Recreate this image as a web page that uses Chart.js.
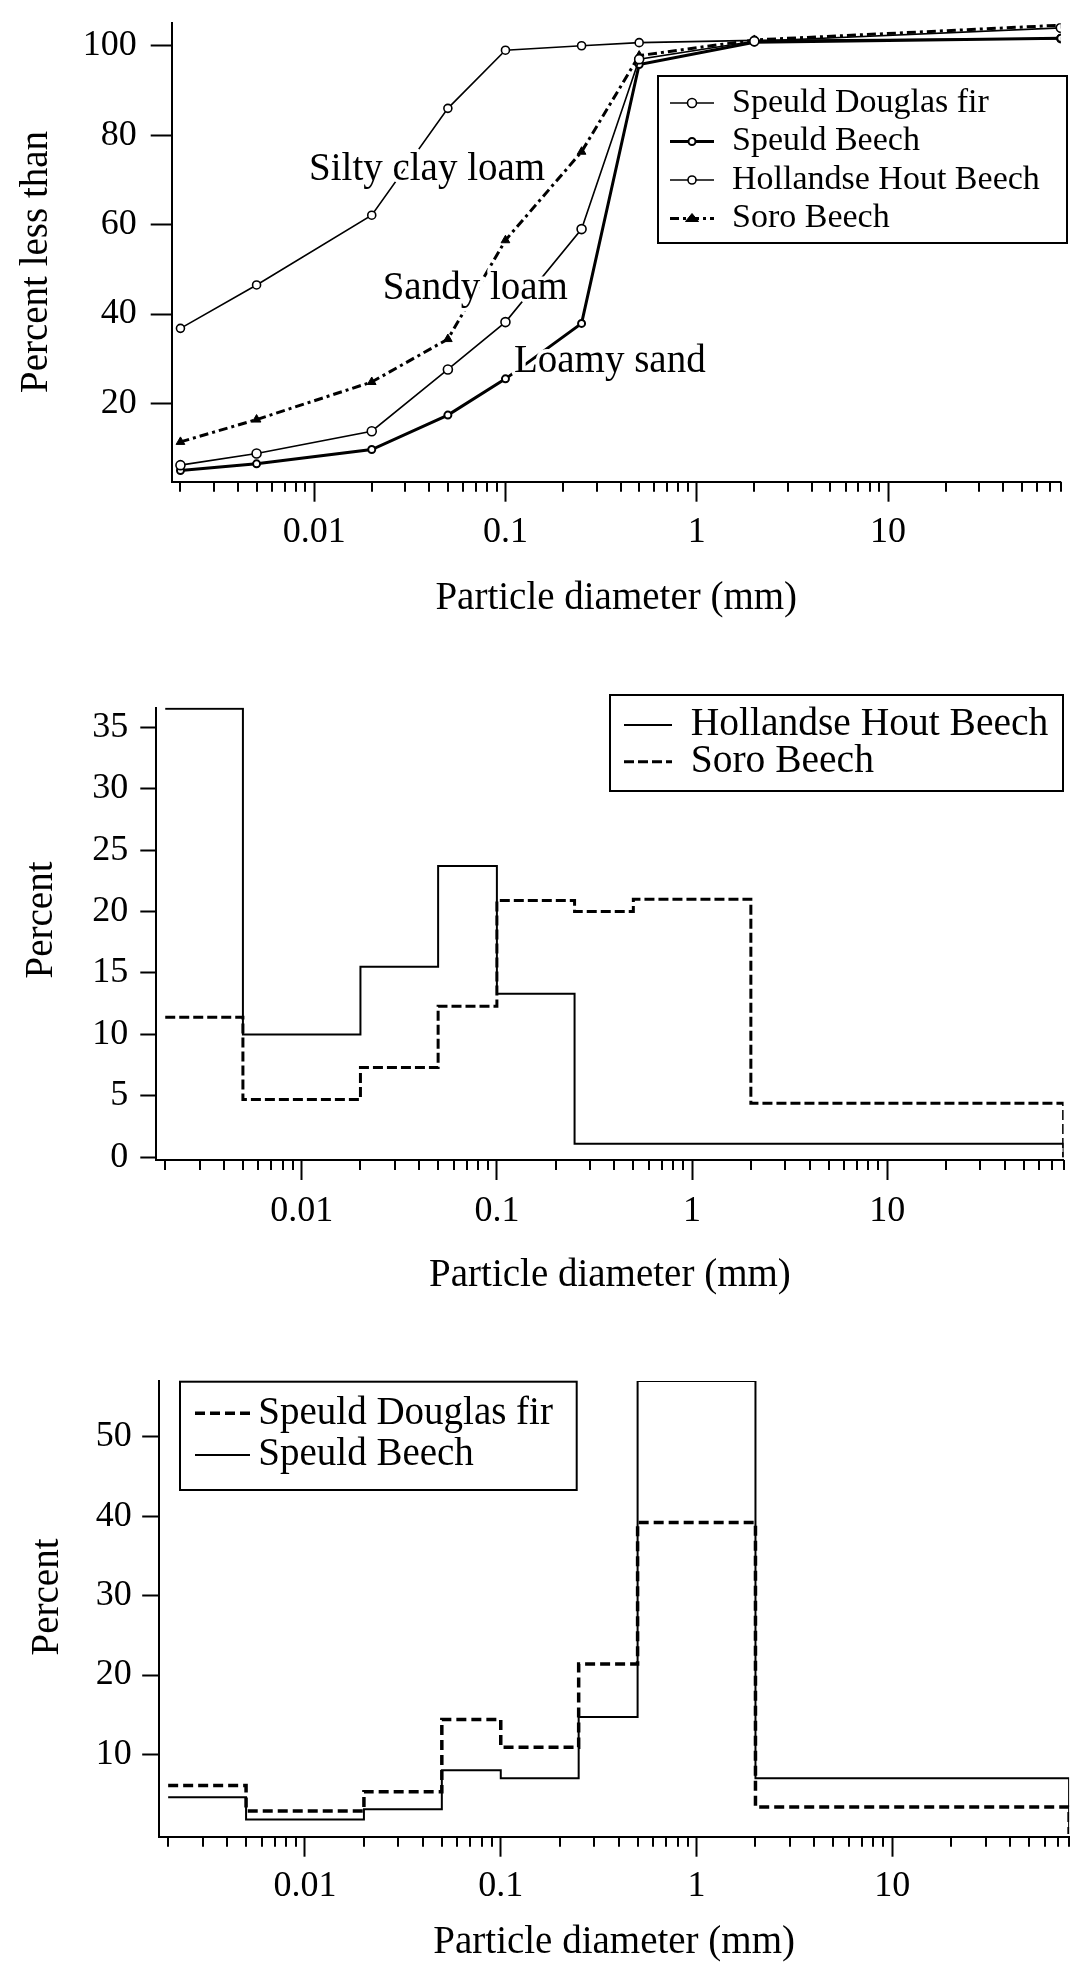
<!DOCTYPE html>
<html>
<head>
<meta charset="utf-8">
<script src="https://cdn.jsdelivr.net/npm/chart.js@4.4.1/dist/chart.umd.min.js"></script>
<style>
html, body { margin: 0; padding: 0; background: #fff; }
body { width: 1074px; height: 1964px; position: relative; overflow: hidden; }
canvas { position: absolute; left: 0; }
</style>
</head>
<body>
<canvas id="c1" width="1074" height="640" style="top:0px"></canvas>
<canvas id="c2" width="1074" height="660" style="top:640px"></canvas>
<canvas id="c3" width="1074" height="664" style="top:1300px"></canvas>
<script>
// ---------- DATA ----------
// Top panel: cumulative particle-size curves (percent less than)
const diameters = [0.002, 0.005, 0.02, 0.05, 0.1, 0.25, 0.5, 2, 80];
const cumDouglasFir  = [6.2, 8.8, 13.8, 27.6, 38.2, 59.0, 97.0, 101.0, 104.0];
const cumSpeuldBeech = [5.0, 6.5, 9.7, 17.4, 25.5, 37.9, 95.8, 100.8, 101.7];
const cumHollandse   = [36.8, 46.5, 62.1, 86.0, 99.0, 100.0, 100.7, 101.2, 101.6];
const cumSoro        = [11.4, 16.4, 24.8, 34.4, 56.5, 76.3, 97.8, 101.3, 104.6];

// Middle / bottom panels: percent per size class (class edges in mm)
const binEdges = [0.002, 0.005, 0.02, 0.05, 0.1, 0.25, 0.5, 2, 80];
const pctHollandse   = [36.5, 10.0, 15.5, 23.7, 13.3, 1.1, 1.1, 1.1];
const pctSoro        = [11.4, 4.7, 7.3, 12.3, 20.9, 20.0, 21.0, 4.4];
const pctDouglasFir  = [6.1, 2.9, 5.3, 14.4, 10.9, 21.4, 39.2, 3.4];
const pctSpeuldBeech = [4.6, 1.8, 3.1, 8.0, 7.0, 14.7, 57.0, 7.0];

// Tick labels
const xTickValues = [0.01, 0.1, 1, 10];
const xTickLabels = ['0.01', '0.1', '1', '10'];
const yTicksTop = [20, 40, 60, 80, 100];
const yTicksMid = [0, 5, 10, 15, 20, 25, 30, 35];
const yTicksBot = [10, 20, 30, 40, 50];

const seriesNames = ['Speuld Douglas fir', 'Speuld Beech', 'Hollandse Hout Beech', 'Soro Beech'];
const annotationTexts = ['Silty clay loam', 'Sandy loam', 'Loamy sand'];
const xTitle = 'Particle diameter (mm)';
const yTitles = ['Percent less than', 'Percent', 'Percent'];

// ---------- HELPERS ----------
const FONT = "'Liberation Serif', 'Times New Roman', serif";
const X_MIN = 0.0018, X_MAX = 80;

function pairs(xs, ys) { return xs.map((x, i) => ({ x: x, y: ys[i] })); }
function stepPoints(vals) {
  const pts = vals.map((v, i) => ({ x: binEdges[i], y: v }));
  pts.push({ x: binEdges[binEdges.length - 1], y: 0 });
  return pts;
}
function logTicks(min, max) {
  const out = [];
  for (let e = -3; e <= 2; e++) {
    for (let m = 1; m <= 9; m++) {
      const v = parseFloat((m * Math.pow(10, e)).toPrecision(6));
      if (v >= min * 0.999 && v <= max * 1.001) out.push(v);
    }
  }
  return out;
}
function majorIndex(v) { return xTickValues.findIndex(t => Math.abs(t - v) < t * 1e-6); }

function xScale(o) {
  return {
    type: 'logarithmic', min: X_MIN, max: X_MAX,
    afterBuildTicks: s => { s.ticks = logTicks(X_MIN, X_MAX).map(v => ({ value: v, major: majorIndex(v) >= 0 })); },
    afterFit: s => { s.height = o.height; s.paddingLeft = 0; s.paddingRight = 0; },
    border: { display: true, color: '#000', width: 2 },
    grid: {
      display: true, drawOnChartArea: false, drawTicks: true, tickLength: 20, tickWidth: 2,
      tickColor: c => (c.tick && c.tick.major) ? '#000' : 'rgba(0,0,0,0)'
    },
    ticks: {
      autoSkip: false, maxRotation: 0, minRotation: 0, padding: o.pad, color: '#000',
      font: { family: FONT, size: 36 },
      callback: v => { const i = majorIndex(v); return i >= 0 ? xTickLabels[i] : ''; }
    },
    title: {
      display: true, text: xTitle, color: '#000',
      font: { family: FONT, size: 39 }, padding: { top: 0, bottom: o.titlePad }
    }
  };
}
function yScale(o) {
  return {
    type: 'linear', min: o.min, max: o.max,
    afterBuildTicks: s => { s.ticks = o.ticks.map(v => ({ value: v })); },
    afterFit: s => { s.width = o.width; s.paddingTop = 0; s.paddingBottom = 0; },
    border: { display: true, color: '#000', width: 2 },
    grid: { display: true, drawOnChartArea: false, drawTicks: true, tickLength: o.tl, tickWidth: 2, tickColor: '#000' },
    ticks: { padding: o.pad, color: '#000', font: { family: FONT, size: 36 } },
    title: { display: false }
  };
}

const minorTicks = {
  id: 'minorTicks',
  afterDraw(chart) {
    const s = chart.scales.x, ctx = chart.ctx;
    ctx.save();
    ctx.strokeStyle = '#000'; ctx.lineWidth = 2;
    s.ticks.forEach(t => {
      if (t.major) return;
      const px = Math.round(s.getPixelForValue(t.value));
      ctx.beginPath(); ctx.moveTo(px, s.top); ctx.lineTo(px, s.top + 10); ctx.stroke();
    });
    ctx.restore();
  }
};

// rotated y-axis title drawn as text at a given centre
function makeYTitle(text, cx, cy) {
  return {
    id: 'yTitle',
    afterDraw(chart) {
      const ctx = chart.ctx;
      ctx.save();
      ctx.translate(cx, cy);
      ctx.rotate(-Math.PI / 2);
      ctx.fillStyle = '#000';
      ctx.font = '39px ' + FONT;
      ctx.textAlign = 'center'; ctx.textBaseline = 'middle';
      ctx.fillText(text, 0, 0);
      ctx.restore();
    }
  };
}

function drawMarker(ctx, ds, x, y) {
  const r = ds.pointRadius;
  ctx.beginPath();
  if (ds.pointStyle === 'triangle') {
    ctx.moveTo(x, y - r);
    ctx.lineTo(x + r * 1.3, y + r * 0.6);
    ctx.lineTo(x - r * 1.3, y + r * 0.6);
    ctx.closePath();
  } else {
    ctx.arc(x, y, r, 0, Math.PI * 2);
  }
  ctx.fillStyle = ds.pointBackgroundColor || '#fff';
  ctx.fill();
  ctx.lineWidth = ds.pointBorderWidth || 1.5;
  ctx.strokeStyle = '#000';
  ctx.stroke();
}

function makeLegend(cfg) {
  return {
    id: 'boxLegend',
    afterDraw(chart) {
      const ctx = chart.ctx;
      const [x0, y0, x1, y1] = cfg.box;
      ctx.save();
      ctx.fillStyle = '#fff';
      ctx.fillRect(x0, y0, x1 - x0, y1 - y0);
      ctx.strokeStyle = '#000'; ctx.lineWidth = 2;
      ctx.strokeRect(x0, y0, x1 - x0, y1 - y0);
      cfg.rows.forEach((ry, i) => {
        const ds = chart.data.datasets[i];
        ctx.setLineDash(ds.borderDash || []);
        ctx.lineWidth = ds.borderWidth; ctx.strokeStyle = '#000';
        ctx.beginPath(); ctx.moveTo(cfg.sx0, ry); ctx.lineTo(cfg.sx1, ry); ctx.stroke();
        ctx.setLineDash([]);
        if (cfg.markers && ds.pointRadius > 0) drawMarker(ctx, ds, (cfg.sx0 + cfg.sx1) / 2, ry);
        ctx.fillStyle = '#000';
        ctx.font = cfg.size + 'px ' + FONT;
        ctx.textAlign = 'left'; ctx.textBaseline = 'middle';
        ctx.fillText(ds.label, cfg.tx, ry);
      });
      ctx.restore();
    }
  };
}

function makeAnnotations(items) {
  return {
    id: 'annotations',
    afterDatasetsDraw(chart) {
      const ctx = chart.ctx, xs = chart.scales.x, ys = chart.scales.y;
      ctx.save();
      ctx.font = '39px ' + FONT;
      ctx.textAlign = 'left'; ctx.textBaseline = 'middle';
      items.forEach(it => {
        const px = xs.getPixelForValue(it.x), py = ys.getPixelForValue(it.y);
        ctx.lineWidth = 7; ctx.strokeStyle = '#fff'; ctx.lineJoin = 'round';
        ctx.strokeText(it.text, px, py);
        ctx.fillStyle = '#000';
        ctx.fillText(it.text, px, py);
      });
      ctx.restore();
    }
  };
}

const common = {
  responsive: false, animation: false, devicePixelRatio: 1,
  plugins: { legend: { display: false }, tooltip: { enabled: false } },
  elements: { line: { tension: 0 } }
};

// ---------- TOP: cumulative curves ----------
new Chart(document.getElementById('c1'), {
  type: 'line',
  data: {
    datasets: [
      { label: seriesNames[0], data: pairs(diameters, cumDouglasFir), borderColor: '#000', borderWidth: 1.6,
        pointStyle: 'circle', pointRadius: 4.5, pointBackgroundColor: '#fff', pointBorderColor: '#000', pointBorderWidth: 1.6 },
      { label: seriesNames[1], data: pairs(diameters, cumSpeuldBeech), borderColor: '#000', borderWidth: 3,
        pointStyle: 'circle', pointRadius: 3.5, pointBackgroundColor: '#fff', pointBorderColor: '#000', pointBorderWidth: 2 },
      { label: seriesNames[2], data: pairs(diameters, cumHollandse), borderColor: '#000', borderWidth: 1.6,
        pointStyle: 'circle', pointRadius: 4, pointBackgroundColor: '#fff', pointBorderColor: '#000', pointBorderWidth: 1.6 },
      { label: seriesNames[3], data: pairs(diameters, cumSoro), borderColor: '#000', borderWidth: 3, borderDash: [9, 4, 3, 4],
        pointStyle: 'triangle', pointRadius: 5, pointBackgroundColor: '#000', pointBorderColor: '#000', pointBorderWidth: 1 }
    ]
  },
  options: Object.assign({}, common, {
    layout: { padding: { left: 0, right: 13.2, top: 23.4, bottom: 0 } },
    scales: {
      x: xScale({ height: 158.3, pad: 9.7, titlePad: 18.1 }),
      y: yScale({ min: 2.5, max: 105, ticks: yTicksTop, width: 171.7, tl: 21, pad: 14 })
    }
  }),
  plugins: [
    minorTicks,
    makeYTitle(yTitles[0], 37, 262),
    makeAnnotations([
      { text: annotationTexts[0], x: 0.0094, y: 72.2 },
      { text: annotationTexts[1], x: 0.0228, y: 45.7 },
      { text: annotationTexts[2], x: 0.1108, y: 29.3 }
    ]),
    makeLegend({ box: [658, 76, 1067, 243], rows: [103, 141.5, 180, 218.5], sx0: 670, sx1: 714, tx: 732, size: 34, markers: true })
  ]
});

// ---------- MIDDLE: Hollandse Hout Beech vs Soro Beech ----------
new Chart(document.getElementById('c2'), {
  type: 'line',
  data: {
    datasets: [
      { label: seriesNames[2], data: stepPoints(pctHollandse), stepped: 'before', borderColor: '#000', borderWidth: 2, pointRadius: 0 },
      { label: seriesNames[3], data: stepPoints(pctSoro), stepped: 'before', borderColor: '#000', borderWidth: 3, borderDash: [10, 4], pointRadius: 0 }
    ]
  },
  options: Object.assign({}, common, {
    layout: { padding: { left: 0, right: 10.4, top: 67.5, bottom: 0 } },
    scales: {
      x: xScale({ height: 140, pad: 9.9, titlePad: 0.6 }),
      y: yScale({ min: -0.22, max: 36.6, ticks: yTicksMid, width: 156.3, tl: 16, pad: 12 })
    }
  }),
  plugins: [
    minorTicks,
    makeYTitle(yTitles[1], 42, 280),
    makeLegend({ box: [610, 55, 1063, 151], rows: [85, 121.7], sx0: 624, sx1: 672, tx: 690.7, size: 39.5, markers: false })
  ]
});

// ---------- BOTTOM: Speuld Douglas fir vs Speuld Beech ----------
new Chart(document.getElementById('c3'), {
  type: 'line',
  data: {
    datasets: [
      { label: seriesNames[0], data: stepPoints(pctDouglasFir), stepped: 'before', borderColor: '#000', borderWidth: 3.5, borderDash: [10, 5], pointRadius: 0 },
      { label: seriesNames[1], data: stepPoints(pctSpeuldBeech), stepped: 'before', borderColor: '#000', borderWidth: 2, pointRadius: 0 }
    ]
  },
  options: Object.assign({}, common, {
    layout: { padding: { left: 0, right: 4.9, top: 81, bottom: 0 } },
    scales: {
      x: xScale({ height: 127.3, pad: 8.7, titlePad: -2.4 }),
      y: yScale({ min: -0.35, max: 57, ticks: yTicksBot, width: 159.2, tl: 17, pad: 10.5 })
    }
  }),
  plugins: [
    minorTicks,
    makeYTitle(yTitles[2], 48, 297),
    makeLegend({ box: [180, 81.7, 576.7, 190], rows: [113.3, 155], sx0: 195, sx1: 250, tx: 258.3, size: 39, markers: false })
  ]
});
</script>
</body>
</html>
